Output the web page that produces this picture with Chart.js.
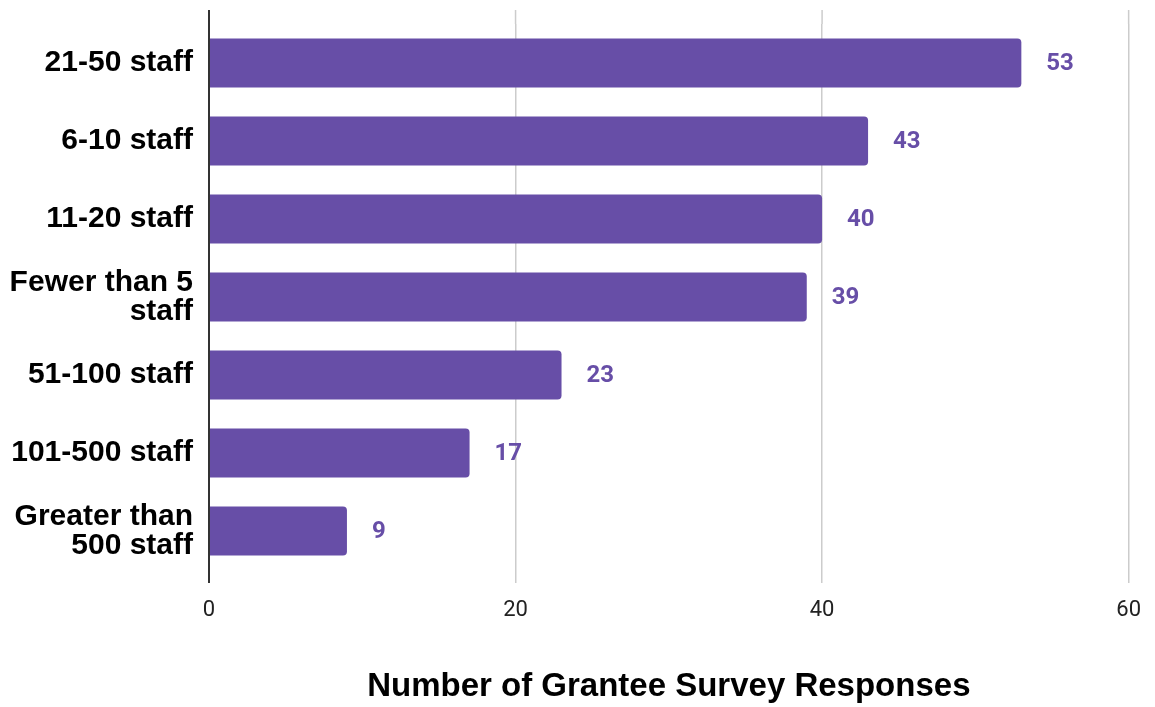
<!DOCTYPE html>
<html>
<head>
<meta charset="utf-8">
<script src="https://cdn.jsdelivr.net/npm/chart.js@4.4.1/dist/chart.umd.min.js"></script>
<style>
html,body{margin:0;padding:0;background:#fff;}
#wrap{width:1155px;height:707px;}
</style>
</head>
<body>
<div id="wrap"><canvas id="c"></canvas></div>
<script>
// data
const categories=[['21-50 staff'],['6-10 staff'],['11-20 staff'],['Fewer than 5','staff'],['51-100 staff'],['101-500 staff'],['Greater than','500 staff']];
const responses=[53,43,40,39,23,17,9];
const xTicks=[0,20,40,60];
const purple='#674ea7';

// extend vertical grid lines above the plot, like the original
const gridTop={
id:'gridTop',
beforeDatasetsDraw(chart){
const c=chart.ctx,x=chart.scales.x,a=chart.chartArea;
c.save();
xTicks.forEach(v=>{
const px=x.getPixelForValue(v);
c.beginPath();
c.strokeStyle=v===0?'#333':'#cccccc';
c.lineWidth=v===0?2:1.5;
c.moveTo(px,10);c.lineTo(px,a.top);c.stroke();
});
c.restore();
}
};

// value labels at the end of bars
const valueLabels={
id:'valueLabels',
afterDatasetsDraw(chart){
const c=chart.ctx;
c.save();
c.font='bold 24px Roboto';
c.fillStyle=purple;
c.textAlign='left';
c.textBaseline='middle';
chart.getDatasetMeta(0).data.forEach((b,i)=>{
c.fillText(responses[i],b.x+25,b.y+1);
});
c.restore();
}
};

new Chart(document.getElementById('c'),{
type:'bar',
data:{
labels:categories,
datasets:[{data:responses,backgroundColor:purple,borderRadius:4,barPercentage:0.63,categoryPercentage:1}]
},
options:{
indexAxis:'y',
responsive:true,
maintainAspectRatio:false,
animation:false,
layout:{padding:{top:24,right:23,left:0,bottom:0}},
plugins:{legend:{display:false},tooltip:{enabled:false}},
scales:{
x:{
min:0,max:60,
afterBuildTicks:s=>{s.ticks=xTicks.map(v=>({value:v}));},
grid:{
color:ctx=>ctx.tick&&ctx.tick.value===0?'#333':'#cccccc',
lineWidth:ctx=>ctx.tick&&ctx.tick.value===0?2:1.5,
tickLength:13
},
border:{display:false},
ticks:{font:{family:'Roboto',size:22},color:'#222',padding:14},
title:{display:true,text:'Number of Grantee Survey Responses',font:{family:'"Liberation Sans", Arial',size:33,weight:'bold'},color:'#000',padding:{top:0,bottom:0}},
afterFit:s=>{s.height=137;}
},
y:{
grid:{display:false,drawTicks:false},
border:{display:false},
ticks:{font:{family:'"Liberation Sans", Arial',size:30,weight:'bold',lineHeight:0.97},color:'#000',padding:16},
afterFit:s=>{s.width=209;s.paddingTop=0;s.paddingBottom=0;}
}
}
},
plugins:[gridTop,valueLabels]
});
</script>
</body>
</html>
